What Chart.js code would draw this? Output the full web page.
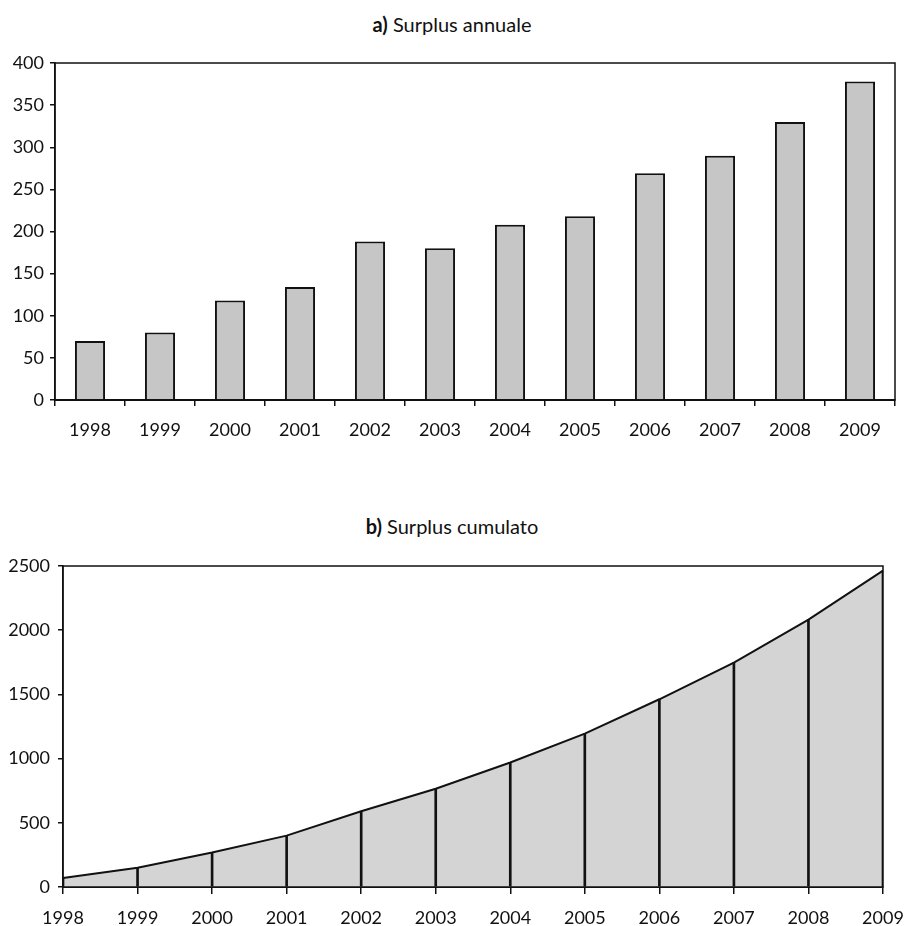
<!DOCTYPE html>
<html>
<head>
<meta charset="utf-8">
<script src="https://cdn.jsdelivr.net/npm/chart.js@4"></script>
<style>
  body { margin: 0; background: #fff; width: 904px; height: 926px; position: relative; font-family: Lato, sans-serif; }
  .titolo { position: absolute; left: 0; width: 904px; text-align: center; font-size: 20px; line-height: 24px; color: #111; }
  .box { position: absolute; left: 0; width: 904px; }
</style>
</head>
<body>
<div class="titolo" style="top:12px"><b>a)</b> Surplus annuale</div>
<div class="box" style="top:40px;height:420px"><canvas id="annualeChart"></canvas></div>
<div class="titolo" style="top:514px"><b>b)</b> Surplus cumulato</div>
<div class="box" style="top:540px;height:386px"><canvas id="cumulatoChart"></canvas></div>

<script>
// Dati
const anni = ['1998', '1999', '2000', '2001', '2002', '2003', '2004', '2005', '2006', '2007', '2008', '2009'];
const surplusAnnuale = [70, 80, 118, 134, 188, 180, 208, 218, 269, 290, 330, 378];
const surplusCumulato = [70, 150, 268, 400, 590, 765, 970, 1195, 1462, 1748, 2083, 2464];
const tickAnnuale = [0, 50, 100, 150, 200, 250, 300, 350, 400];
const tickCumulato = [0, 500, 1000, 1500, 2000, 2500];

const nero = '#111';
const fontTick = { family: 'Lato, sans-serif', size: 18 };

// cornice attorno all'area del grafico
const cornice = {
  id: 'cornice',
  afterDraw(chart) {
    const a = chart.chartArea;
    const ctx = chart.ctx;
    ctx.save();
    ctx.strokeStyle = nero;
    ctx.lineWidth = 1.5;
    ctx.strokeRect(a.left, a.top, a.right - a.left, a.bottom - a.top);
    ctx.restore();
  }
};

// Grafico a) barre
const annualeCtx = document.getElementById('annualeChart').getContext('2d');
new Chart(annualeCtx, {
  type: 'bar',
  data: {
    labels: anni,
    datasets: [{
      data: surplusAnnuale,
      backgroundColor: '#c6c6c6',
      borderColor: nero,
      borderWidth: 2,
      barPercentage: 0.43,
      categoryPercentage: 1
    }]
  },
  options: {
    responsive: true,
    maintainAspectRatio: false,
    animation: false,
    layout: { padding: { top: 23, right: 9, left: 0, bottom: 0 } },
    plugins: { legend: { display: false }, tooltip: { enabled: false } },
    scales: {
      x: {
        afterFit: (s) => { s.height = 60; },
        grid: { drawOnChartArea: false, drawTicks: true, tickLength: 6, color: nero, lineWidth: 1.5 },
        border: { color: nero, width: 2 },
        ticks: { color: nero, font: fontTick, padding: 13, maxRotation: 0 }
      },
      y: {
        min: 0,
        max: 400,
        afterFit: (s) => { s.width = 55; },
        afterBuildTicks: (s) => { s.ticks = tickAnnuale.map(v => ({ value: v })); },
        grid: { drawOnChartArea: false, drawTicks: true, tickLength: 5, color: nero, lineWidth: 1.5 },
        border: { color: nero, width: 1.5 },
        ticks: { color: nero, font: fontTick, padding: 6, callback: (v) => String(v) }
      }
    }
  },
  plugins: [cornice]
});

// Grafico b) area cumulata
const cumulatoCtx = document.getElementById('cumulatoChart').getContext('2d');
new Chart(cumulatoCtx, {
  data: {
    labels: anni,
    datasets: [{
      type: 'line',
      data: surplusCumulato,
      borderColor: nero,
      borderWidth: 2,
      backgroundColor: '#d4d4d4',
      fill: 'origin',
      tension: 0,
      pointRadius: 0,
      order: 2
    }, {
      type: 'bar',
      data: surplusCumulato,
      backgroundColor: nero,
      barThickness: 2,
      order: 1
    }]
  },
  options: {
    responsive: true,
    maintainAspectRatio: false,
    animation: false,
    layout: { padding: { top: 26, right: 21, left: 0, bottom: 0 } },
    plugins: { legend: { display: false }, tooltip: { enabled: false } },
    scales: {
      x: {
        offset: false,
        afterFit: (s) => { s.height = 39; s.paddingLeft = 0; s.paddingRight = 0; },
        grid: { offset: false, drawOnChartArea: false, drawTicks: true, tickLength: 7, color: nero, lineWidth: 1.5 },
        border: { color: nero, width: 2 },
        ticks: { color: nero, font: fontTick, padding: 13, maxRotation: 0, autoSkip: false }
      },
      y: {
        min: 0,
        max: 2500,
        afterFit: (s) => { s.width = 63; },
        afterBuildTicks: (s) => { s.ticks = tickCumulato.map(v => ({ value: v })); },
        grid: { drawOnChartArea: false, drawTicks: true, tickLength: 5, color: nero, lineWidth: 1.5 },
        border: { color: nero, width: 1.5 },
        ticks: { color: nero, font: fontTick, padding: 8, callback: (v) => String(v) }
      }
    }
  },
  plugins: [cornice]
});
</script>
</body>
</html>
